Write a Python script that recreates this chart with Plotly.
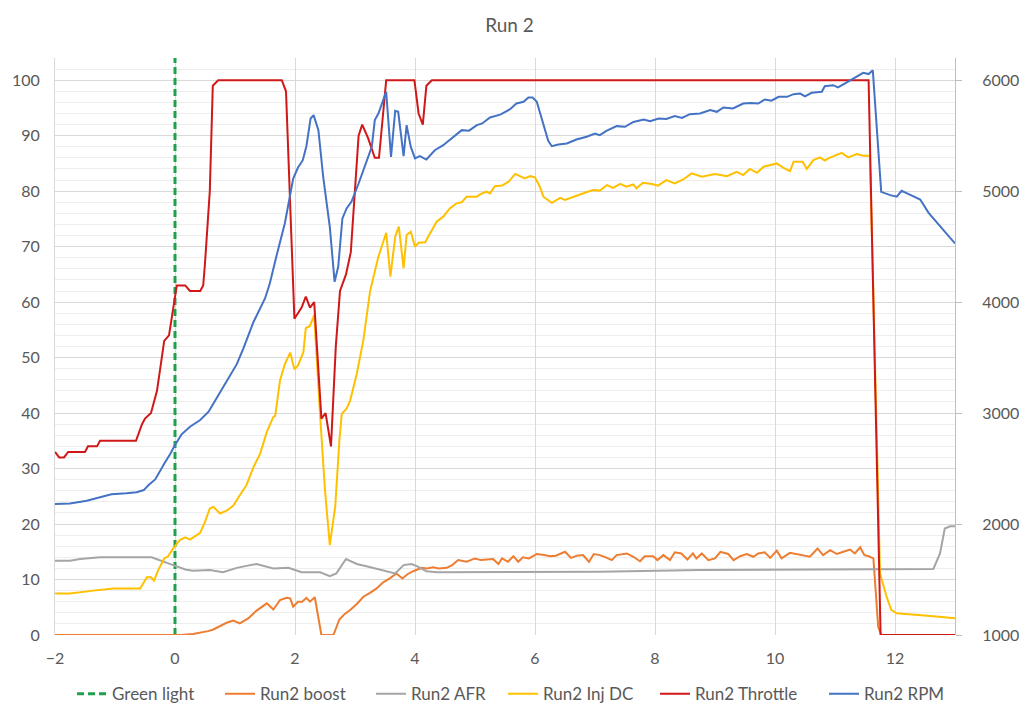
import plotly.graph_objects as go

# ---------------- data ----------------
green_t = [0, 0]
green_v = [0, 104]

boost_t = [-2.0, 0.1, 0.3, 0.42, 0.55, 0.64, 0.75, 0.86, 0.97, 1.08, 1.22, 1.36, 1.53, 1.64, 1.75, 1.86,
           1.92, 1.97, 2.05, 2.12, 2.19, 2.25, 2.33, 2.44, 2.64, 2.74, 2.83, 2.92, 3.03, 3.14, 3.25,
           3.36, 3.47, 3.58, 3.69, 3.79, 3.88, 3.97, 4.11, 4.2, 4.3, 4.4, 4.53, 4.62, 4.72, 4.86,
           5.0, 5.1, 5.2, 5.3, 5.39, 5.45, 5.55, 5.64, 5.72, 5.8, 5.9, 6.03, 6.15, 6.25, 6.35, 6.5,
           6.6, 6.7, 6.8, 6.9, 6.98, 7.08, 7.18, 7.28, 7.36, 7.53, 7.64, 7.75, 7.83, 7.97, 8.04, 8.14,
           8.25, 8.33, 8.44, 8.54, 8.63, 8.69, 8.78, 8.89, 9.0, 9.09, 9.22, 9.31, 9.42, 9.53, 9.64,
           9.72, 9.83, 9.92, 10.03, 10.11, 10.25, 10.42, 10.58, 10.71, 10.8, 10.92, 11.03, 11.14,
           11.25, 11.33, 11.42, 11.49, 11.56, 11.64, 11.72, 11.77, 13.0]
boost_v = [0, 0, 0.2, 0.4, 0.7, 1.0, 1.6, 2.2, 2.6, 2.1, 3.0, 4.4, 5.7, 4.6, 6.3, 6.7,
           6.6, 5.1, 6.0, 6.0, 6.7, 6.0, 6.8, 0, 0, 2.8, 3.8, 4.5, 5.6, 6.9, 7.6,
           8.4, 9.5, 10.2, 11.1, 10.2, 11.0, 11.5, 12.1, 12.0, 12.2, 12.0, 12.1, 12.6, 13.5, 13.2,
           13.8, 13.5, 13.6, 13.7, 12.8, 13.8, 13.2, 14.2, 13.2, 14.0, 13.8, 14.6, 14.4, 14.2, 14.3, 15.0,
           13.9, 14.3, 14.4, 13.2, 14.6, 14.4, 14.0, 13.5, 14.4, 14.7, 14.1, 13.3, 14.2, 14.2, 13.5, 14.4,
           13.5, 14.9, 14.7, 13.6, 14.7, 13.8, 14.7, 13.5, 13.8, 15.0, 14.6, 13.5, 14.2, 14.6, 14.1,
           14.7, 14.9, 13.9, 15.2, 13.8, 14.8, 14.4, 14.1, 15.6, 14.4, 15.3, 14.6, 15.0,
           15.4, 14.7, 15.8, 14.4, 14.2, 13.8, 1.5, 0, 0]

afr_t = [-2.0, -1.75, -1.58, -1.25, -0.39, -0.19, -0.03, 0.17, 0.3, 0.58, 0.8, 1.03, 1.36, 1.64,
         1.89, 2.11, 2.42, 2.58, 2.69, 2.85, 3.03, 3.19, 3.42, 3.67, 3.81, 3.94, 4.03, 4.19, 4.36,
         4.75, 7.08, 8.75, 11.19, 12.64, 12.75, 12.83, 12.92, 13.0]
afr_v = [13.4, 13.4, 13.7, 14.0, 14.0, 13.3, 12.6, 11.8, 11.6, 11.7, 11.3, 12.1, 12.8, 12.0,
         12.1, 11.3, 11.3, 10.6, 11.1, 13.7, 12.8, 12.4, 11.8, 11.1, 12.6, 12.8, 12.4, 11.5, 11.3,
         11.3, 11.4, 11.7, 11.9, 11.9, 14.7, 19.2, 19.6, 19.6]

injdc_t = [-2.0, -1.75, -1.36, -1.03, -0.58, -0.47, -0.4, -0.35, -0.28, -0.18, -0.12, -0.03, 0.08,
           0.17, 0.25, 0.33, 0.42, 0.5, 0.58, 0.64, 0.75, 0.86, 0.97, 1.08, 1.19, 1.31, 1.42, 1.53,
           1.64, 1.67, 1.75, 1.83, 1.92, 1.99, 2.05, 2.14, 2.18, 2.25, 2.32, 2.42, 2.5, 2.58, 2.67,
           2.74, 2.78, 2.86, 2.92, 3.03, 3.14, 3.25, 3.39, 3.52, 3.59, 3.67, 3.73, 3.81, 3.86, 3.93,
           4.0, 4.06, 4.17, 4.22, 4.36, 4.47, 4.58, 4.69, 4.78, 4.86, 5.03, 5.1, 5.19, 5.25, 5.33,
           5.45, 5.56, 5.67, 5.75, 5.83, 5.92, 6.0, 6.08, 6.14, 6.28, 6.42, 6.5, 6.64, 6.8, 6.88,
           6.97, 7.08, 7.2, 7.3, 7.42, 7.52, 7.64, 7.69, 7.8, 7.95, 8.05, 8.19, 8.33, 8.47, 8.61,
           8.78, 9.0, 9.2, 9.36, 9.47, 9.58, 9.7, 9.81, 10.03, 10.14, 10.25, 10.31, 10.46, 10.53,
           10.64, 10.75, 10.83, 10.89, 11.11, 11.22, 11.36, 11.47, 11.58, 11.62, 11.68, 11.75, 11.86,
           11.94, 12.03, 12.3, 12.64, 13.0]
injdc_v = [7.5, 7.5, 8.0, 8.4, 8.4, 10.4, 10.4, 9.8, 11.7, 13.8, 14.1, 15.6, 17.1,
           17.6, 17.2, 17.8, 18.4, 20.4, 22.8, 23.1, 21.9, 22.4, 23.3, 25.2, 27.0, 30.3, 32.7, 36.6,
           39.3, 39.5, 45.9, 48.8, 50.9, 47.9, 48.6, 51.0, 55.3, 55.7, 57.7, 39.3, 26.1, 16.2, 23.1,
           35.1, 39.9, 40.8, 42.3, 47.1, 53.2, 61.9, 68.2, 72.5, 64.6, 71.8, 73.6, 66.1, 72.1, 72.7,
           70.0, 70.7, 70.8, 71.8, 74.5, 75.4, 76.9, 77.8, 78.0, 79.0, 79.0, 79.5, 79.9, 79.6, 80.9,
           81.0, 81.7, 83.1, 82.7, 82.3, 82.7, 82.5, 80.8, 79.0, 77.9, 78.8, 78.4, 79.0, 79.6, 79.9,
           80.2, 80.1, 81.1, 80.6, 81.3, 80.8, 81.2, 80.5, 81.5, 81.3, 81.0, 82.0, 81.4, 82.1, 83.2,
           82.6, 83.1, 82.7, 83.5, 82.9, 84.0, 83.3, 84.4, 85.0, 84.2, 83.6, 85.3, 85.3, 84.0,
           85.6, 86.1, 85.5, 85.9, 86.9, 86.1, 86.7, 86.4, 86.4, 70.0, 40.0, 11.1, 6.9,
           4.5, 3.9, 3.7, 3.4, 3.0]

throttle_t = [-2.0, -1.93, -1.85, -1.78, -1.5, -1.45, -1.3, -1.25, -0.65, -0.55, -0.5, -0.4, -0.3,
              -0.18, -0.1, 0.03, 0.17, 0.25, 0.42, 0.47, 0.5, 0.58, 0.63, 0.72, 1.78, 1.85, 1.99,
              2.11, 2.18, 2.25, 2.32, 2.44, 2.51, 2.6, 2.68, 2.75, 2.85, 2.93, 3.06, 3.12, 3.22,
              3.33, 3.4, 3.52, 3.99, 4.06, 4.13, 4.19, 4.28, 11.56, 11.76, 13.0]
throttle_v = [33, 32, 32, 33, 33, 34, 34, 35, 35, 38, 39, 40, 44,
              53, 54, 63, 63, 62, 62, 63, 67, 80, 99, 100, 100, 98, 57,
              59, 61, 59, 60, 39, 40, 34, 52, 62, 65, 69, 90, 92, 89.5,
              86, 86, 100, 100, 94, 92, 99, 100, 100, 0, 0]

rpm_t = [-2.0, -1.75, -1.47, -1.25, -1.06, -0.81, -0.64, -0.52, -0.44, -0.33, -0.25, -0.17, -0.08,
         0.0, 0.11, 0.25, 0.42, 0.56, 0.69, 0.86, 1.03, 1.14, 1.31, 1.5, 1.58, 1.69, 1.83, 1.97,
         2.05, 2.13, 2.19, 2.26, 2.31, 2.39, 2.47, 2.58, 2.66, 2.72, 2.79, 2.86, 2.94, 3.06, 3.17,
         3.28, 3.33, 3.39, 3.47, 3.52, 3.6, 3.67, 3.72, 3.81, 3.86, 3.93, 4.0, 4.08, 4.19, 4.33,
         4.47, 4.64, 4.78, 4.9, 5.03, 5.12, 5.25, 5.42, 5.58, 5.69, 5.81, 5.89, 5.96, 6.03, 6.08,
         6.17, 6.22, 6.28, 6.39, 6.53, 6.69, 6.86, 7.0, 7.08, 7.19, 7.36, 7.5, 7.64, 7.81, 7.92,
         8.06, 8.19, 8.33, 8.45, 8.58, 8.75, 8.92, 9.03, 9.14, 9.3, 9.47, 9.6, 9.72, 9.83, 9.94,
         10.06, 10.2, 10.31, 10.42, 10.5, 10.61, 10.78, 10.83, 10.97, 11.05, 11.19, 11.31, 11.39,
         11.47, 11.56, 11.63, 11.77, 11.92, 12.03, 12.11, 12.22, 12.33, 12.42, 12.56, 12.69,
         12.83, 13.0]
rpm_v = [2180, 2185, 2210, 2240, 2268, 2277, 2286, 2306, 2351, 2402, 2471, 2552, 2631,
         2712, 2808, 2877, 2937, 3012, 3132, 3282, 3441, 3583, 3823, 4033, 4168, 4414, 4709, 5114,
         5213, 5279, 5405, 5655, 5685, 5550, 5129, 4678, 4183, 4318, 4754, 4844, 4904, 5069, 5234,
         5399, 5640, 5700, 5820, 5895, 5309, 5724, 5715, 5315, 5595, 5399, 5295, 5315, 5285, 5369,
         5414, 5484, 5550, 5545, 5595, 5610, 5664, 5690, 5736, 5790, 5805, 5844, 5844, 5805, 5715,
         5550, 5453, 5405, 5420, 5430, 5465, 5490, 5520, 5505, 5543, 5586, 5580, 5624, 5646, 5630,
         5655, 5650, 5676, 5660, 5694, 5700, 5730, 5715, 5754, 5745, 5790, 5795, 5790, 5826, 5815,
         5850, 5850, 5874, 5880, 5855, 5886, 5895, 5946, 5955, 5935, 5979, 6015, 6036,
         6066, 6055, 6090, 4994, 4964, 4950, 5003, 4975, 4950, 4925, 4805, 4724,
         4634, 4529]

x_ticks = [-2, 0, 2, 4, 6, 8, 10, 12]

# ---------------- figure ----------------
FONT = "Lato, 'Open Sans', sans-serif"
fig = go.Figure()

fig.add_trace(go.Scatter(x=green_t, y=green_v, mode="lines", name="Green light", legendwidth=103,
                         line=dict(color="#1FA04A", width=3, dash="7px,4px")))
fig.add_trace(go.Scatter(x=boost_t, y=boost_v, mode="lines", name="Run2 boost", legendwidth=106,
                         line=dict(color="#ED7D31", width=2)))
fig.add_trace(go.Scatter(x=afr_t, y=afr_v, mode="lines", name="Run2 AFR", legendwidth=87,
                         line=dict(color="#A5A5A5", width=2)))
fig.add_trace(go.Scatter(x=injdc_t, y=injdc_v, mode="lines", name="Run2 Inj DC", legendwidth=107,
                         line=dict(color="#FFC000", width=2)))
fig.add_trace(go.Scatter(x=throttle_t, y=throttle_v, mode="lines", name="Run2 Throttle", legendwidth=124,
                         line=dict(color="#D01818", width=2)))
fig.add_trace(go.Scatter(x=rpm_t, y=rpm_v, mode="lines", name="Run2 RPM", yaxis="y2", legendwidth=90,
                         line=dict(color="#4472C4", width=2)))

fig.update_layout(
    width=1019, height=718,
    margin=dict(l=55, r=64, t=58, b=83, autoexpand=False),
    paper_bgcolor="white", plot_bgcolor="white",
    font=dict(family=FONT, size=16, color="#595959"),
    title=dict(text="Run 2", x=0.5, xanchor="center", y=0.965, yanchor="middle",
               font=dict(family=FONT, size=19, color="#595959")),
    showlegend=True,
    legend=dict(orientation="h", x=0.0189, xanchor="left", yref="container", y=0.033,
                yanchor="middle", font=dict(family=FONT, size=17, color="#595959"),
                traceorder="normal"),
    xaxis=dict(range=[-2, 13], tickvals=x_ticks, showgrid=True, gridcolor="#D9D9D9",
               gridwidth=1, zeroline=False, showline=False, ticks="", automargin=False,
               ticklabelstandoff=12, tickfont=dict(size=16)),
    yaxis=dict(range=[0, 104], dtick=10, tick0=0, showgrid=True, gridcolor="#D9D9D9",
               zeroline=False, showline=True, linecolor="#D9D9D9", ticks="", automargin=False,
               ticklabelstandoff=11,
               minor=dict(dtick=2, showgrid=True, gridcolor="#EEEEEE"),
               tickfont=dict(size=16)),
    yaxis2=dict(range=[1000, 6200], dtick=1000, tick0=1000, overlaying="y", side="right",
                showgrid=False, zeroline=False, showline=True, linecolor="#BFBFBF",
                ticks="outside", ticklen=6, tickcolor="#BFBFBF", ticklabelstandoff=17,
                ticklabeloverflow="allow",
                automargin=False, tickfont=dict(size=16)),
)

fig.write_html("out.html")
